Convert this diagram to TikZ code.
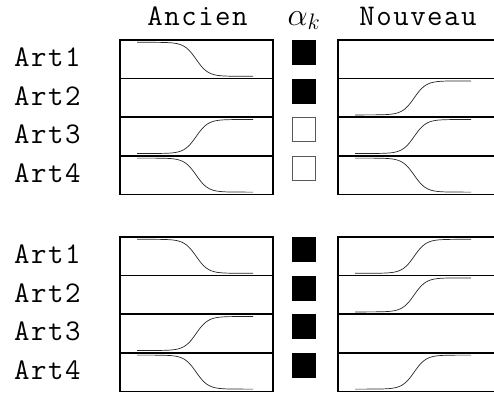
\documentclass[tikz,border=0pt]{standalone}
\usepackage{fix-cm}
\usepackage{fontspec}
\newfontfamily\artfont{Latin Modern Mono}[LetterSpace=5]
\begin{document}
\begin{tikzpicture}[x=1pt, y=-1pt,
    cell/.style={draw, line width=1.7pt, minimum height=38.6pt, inner sep=0pt},
    old/.style={cell, minimum width=153pt},
    new/.style={cell, minimum width=170pt},
    lbl/.style={font=\fontsize{30}{34}\selectfont\artfont, inner sep=0pt},
    sqon/.style={fill=black, minimum width=24pt, minimum height=25pt, inner sep=0pt},
    sqoff/.style={draw=black!65, line width=1pt, fill=white,
                  minimum width=23pt, minimum height=24pt, inner sep=0pt},
    curve/.style={black!85, line width=0.7pt},
    fall/.pic={\draw[curve] plot[variable=\t, domain=-59:57, samples=60, smooth] (\t,{17*tanh(\t/12)});},
    rise/.pic={\draw[curve] plot[variable=\t, domain=-59:57, samples=60, smooth] (\t,{-17*tanh(\t/12)});},
]
\useasboundingbox (0,0) rectangle (494,392);
\clip (0,0) rectangle (494,392);
% column heads
\node[lbl, anchor=base] (ancien) at (197.5,25) {Ancien};
\node[font=\fontsize{32}{36}\selectfont, inner sep=0pt, anchor=base] (alpha) at (304,25) {$\alpha_k$};
\node[lbl, anchor=base] (nouveau) at (418,25) {Nouveau};
% two groups of four rows
\foreach \g/\top in {1/40, 2/237}{
  \foreach \r in {1,...,4}{
    \pgfmathsetmacro{\yc}{\top+19.3+38.6*(\r-1)}
    \node[old] (old-\g-\r) at (196.5,\yc) {};
    \node[new] (new-\g-\r) at (423,\yc) {};
    \node[lbl, anchor=base west] (art-\g-\r) at (14,{\yc+7.4}) {Art\r};
  }
}
% weights
\foreach \g/\r/\s in {1/1/sqon, 1/2/sqon, 1/3/sqoff, 1/4/sqoff,
                      2/1/sqon, 2/2/sqon, 2/3/sqon, 2/4/sqon}{
  \node[\s, anchor=north] (sq-\g-\r) at ([yshift=-0.8pt]old-\g-\r.north -| alpha) {};
}
% profiles
\pic at ([xshift=77pt]old-1-1.west) {fall};
\pic at ([xshift=77pt]old-1-3.west) {rise};
\pic at ([xshift=77pt]old-1-4.west) {fall};
\pic at ([xshift=77pt]new-1-2.west) {rise};
\pic at ([xshift=77pt]new-1-3.west) {rise};
\pic at ([xshift=77pt]new-1-4.west) {fall};
\pic at ([xshift=77pt]old-2-1.west) {fall};
\pic at ([xshift=77pt]old-2-3.west) {rise};
\pic at ([xshift=77pt]old-2-4.west) {fall};
\pic at ([xshift=77pt]new-2-1.west) {rise};
\pic at ([xshift=77pt]new-2-2.west) {rise};
\pic at ([xshift=77pt]new-2-4.west) {rise};
\end{tikzpicture}
\end{document}
